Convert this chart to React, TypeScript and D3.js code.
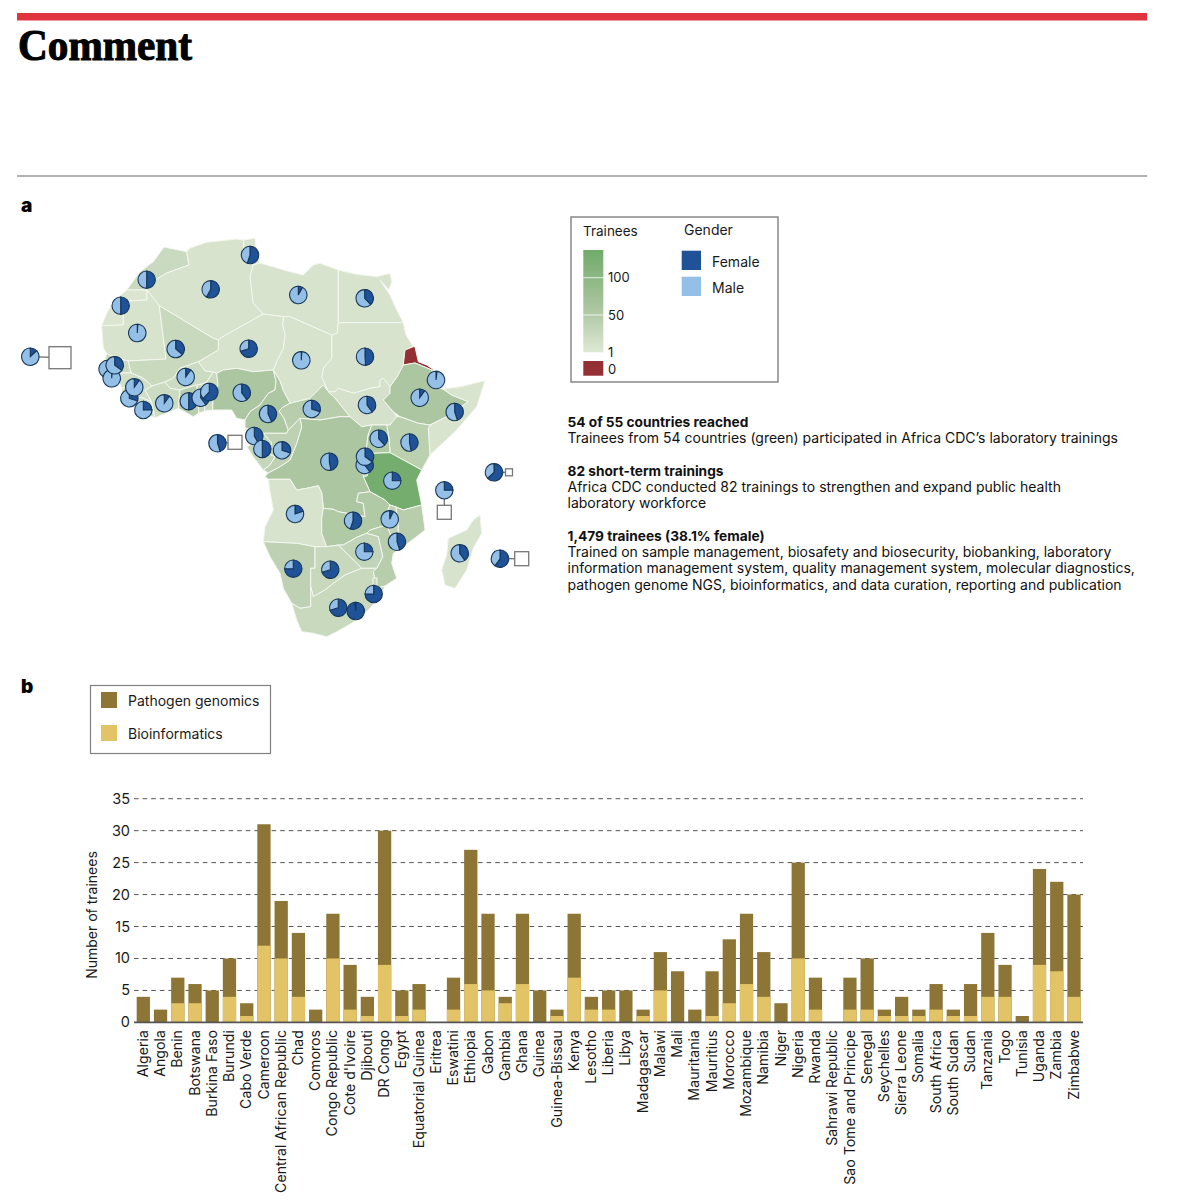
import * as d3 from "d3";

// ---- panel b data
const countries = ["Algeria","Angola","Benin","Botswana","Burkina Faso","Burundi","Cabo Verde","Cameroon","Central African Republic","Chad","Comoros","Congo Republic","Cote d'Ivoire","Djibouti","DR Congo","Egypt","Equatorial Guinea","Eritrea","Eswatini","Ethiopia","Gabon","Gambia","Ghana","Guinea","Guinea-Bissau","Kenya","Lesotho","Liberia","Libya","Madagascar","Malawi","Mali","Mauritania","Mauritius","Morocco","Mozambique","Namibia","Niger","Nigeria","Rwanda","Sahrawi Republic","Sao Tome and Principe","Senegal","Seychelles","Sierra Leone","Somalia","South Africa","South Sudan","Sudan","Tanzania","Togo","Tunisia","Uganda","Zambia","Zimbabwe"];
const totals = [4,2,7,6,5,10,3,31,19,14,2,17,9,4,30,5,6,0,7,27,17,4,17,5,2,17,4,5,5,2,11,8,2,8,13,17,11,3,25,7,0,7,10,2,4,2,6,2,6,14,9,1,24,22,20];
const bioinformatics = [0,0,3,3,0,4,1,12,10,4,0,10,2,1,9,1,2,0,2,6,5,3,6,0,1,7,2,2,0,1,5,0,0,1,3,6,4,0,10,2,0,2,2,1,1,1,2,1,1,4,4,0,9,8,4];
const yTicks = [0,5,10,15,20,25,30,35];

// ---- panel a: country outlines, in page pixels
const morocco = [[164,247],[186.7,251.7],[189,265],[166.7,273],[147,285],[147,290],[126.7,290],[140,271.7],[153.3,261.7]];
const westernSahara = [[126.7,290],[147,290],[147,300],[130,301],[123.3,306],[123.3,325],[101.7,325.7],[106.7,313],[115,300]];
const mauritania = [[147,290],[159.3,305.7],[166,359],[128,361],[115,358],[106.7,353.3],[103.3,348],[101.7,325.7],[123.3,325],[123.3,306],[130,301],[147,300]];
const algeria = [[147,290],[147,285],[166.7,273],[189,265],[186.7,251.7],[190,248],[206.7,242.3],[236.7,239],[243.3,240],[245,258.3],[253.3,265],[250,276.7],[253.3,303.3],[263.3,314],[220,338.3],[218.3,340],[213.3,338.3],[159.3,305.7]];
const tunisia = [[243.3,240],[255,238.3],[256,247],[258,256],[260,263],[253.3,265],[245,258.3]];
const libya = [[253.3,265],[260,263],[290,271.7],[303.3,275],[313.3,265],[320,263.3],[338.3,270],[338.3,322.7],[337.3,333.3],[331.7,335],[290,316.7],[283.3,316.7],[263.3,314],[253.3,303.3],[250,276.7]];
const egypt = [[338.3,270],[356.7,274.3],[376.7,276.7],[390,273.3],[391.7,281.7],[389,290],[380,280],[390,295],[396.7,310],[403.3,322.7],[338.3,322.7]];
const sudan = [[338.3,322.7],[403.3,322.7],[406,335],[413.3,346.7],[405,350],[403.3,365],[397.3,376.7],[390,386.7],[383.3,378.3],[380,380],[380,386.7],[370,388.3],[353.3,393.3],[338.3,388.3],[335,391.7],[328.3,391.7],[321.7,376.7],[323.3,368.3],[331.7,358.3],[331.7,335],[337.3,333.3]];
const chad = [[283.3,316.7],[290,316.7],[331.7,335],[331.7,358.3],[323.3,368.3],[321.7,376.7],[328.3,391.7],[323.3,385],[310,398.3],[290,403.3],[283,390],[280,381],[273.3,370],[276.7,361.7],[283.3,348.3],[285,335],[282.7,325]];
const niger = [[218.3,340],[220,338.3],[263.3,314],[283.3,316.7],[282.7,325],[285,335],[283.3,348.3],[276.7,361.7],[273.3,370],[253.3,371.7],[236.7,368.3],[223.3,370],[216.7,373.3],[213,372],[205,371],[198.3,361.7],[218.3,350]];
const mali = [[159.3,305.7],[213.3,338.3],[218.3,340],[218.3,350],[198.3,361.7],[180,368.3],[173.3,378],[165,382],[152,386],[143,378],[131,373],[128,361],[166,359]];
const senegal = [[106.7,353.3],[115,358],[128,361],[131,373],[120,373],[106,373],[104,364]];
const gambia = [[104,366],[120,365],[120,368],[104,369]];
const guineaBissau = [[106,373],[120,373],[118,380],[110,381]];
const guinea = [[120,373],[131,373],[143,378],[152,386],[145,390],[151.7,402],[143,398],[136,397],[135,385],[122,388],[118,380]];
const sierraLeone = [[122,388],[135,385],[136,397],[128,405],[121,396]];
const liberia = [[136,397],[143,398],[151.7,402],[155,417.7],[147,415],[128,405]];
const coteDivoire = [[145,390],[152,386],[165,382],[170,388],[180,390],[178.3,408.3],[155,417.7],[151.7,402]];
const burkina = [[173.3,378],[180,368.3],[198.3,361.7],[205,371],[213,372],[207,382],[202,384],[197,385],[180,390],[170,388],[165,382]];
const ghana = [[180,390],[197,385],[197,396],[199,413],[193.3,416.7],[178.3,408.3]];
const togo = [[197,385],[202,384],[203,398],[205,411],[199,413],[197,396]];
const benin = [[202,384],[207,382],[213,372],[216.7,373.3],[218,385],[213,398],[212.7,410],[205,411],[203,398]];
const nigeria = [[216.7,373.3],[223.3,370],[236.7,368.3],[253.3,371.7],[273.3,370],[276,381],[275,390],[268.3,393.3],[260,405],[250,411.7],[245,420],[236.7,418.3],[231.7,410],[212.7,410],[213,398],[218,385]];
const cameroon = [[273.3,370],[280,381],[283,390],[290,403.3],[283,407],[279,411],[284,418],[288.3,430],[286.7,433.3],[263.3,433.3],[256,433],[252,430],[245,428],[245,420],[250,411.7],[260,405],[268.3,393.3],[275,390],[276,381]];
const car = [[290,403.3],[310,398.3],[323.3,385],[328.3,391.7],[335,398],[350,416.7],[340,416.7],[320,420],[300,418.3],[288.3,430],[284,418],[279,411],[283,407]];
const southSudan = [[328.3,391.7],[335,391.7],[338.3,388.3],[353.3,393.3],[370,388.3],[380,386.7],[380,380],[383.3,378.3],[390,386.7],[390,393.3],[383.3,400],[393.3,411.7],[396.7,416.7],[390,425],[371.7,425],[361.7,426.7],[350,416.7],[335,398]];
const eritrea = [[405,350],[413.3,346.7],[415,346.7],[418.3,361.7],[426.7,365],[435.7,371],[431.7,370],[421.7,365.7],[415,363],[403.3,365]];
const djibouti = [[431.7,370],[435.7,371],[441,376],[443,389],[434,388]];
const ethiopia = [[403.3,365],[415,363],[421.7,365.7],[431.7,370],[434,388],[443,389],[451.7,395],[468.3,401.7],[446.7,416.7],[430,425],[418.3,423.3],[400,416.7],[393.3,411.7],[383.3,400],[390,393.3],[390,386.7],[397.3,376.7]];
const somalia = [[443,389],[460,386.7],[485,380.7],[476.7,406.7],[456.7,430],[430,455],[428.3,428.3],[430,425],[446.7,416.7],[468.3,401.7],[451.7,395]];
const kenya = [[396.7,416.7],[400,416.7],[418.3,423.3],[430,425],[428.3,428.3],[430,455],[421.7,470],[390,452.7],[389.3,440],[386.7,425],[390,425]];
const uganda = [[371.7,425],[386.7,425],[389.3,440],[390,452.7],[373.3,453.3],[366,450],[368,435]];
const rwanda = [[366,450],[373.3,453.3],[371.7,463.3],[362,462]];
const burundi = [[362,462],[371.7,463.3],[367,476],[363.3,476.7]];
const tanzania = [[373.3,453.3],[390,452.7],[421.7,470],[416.7,480],[421.7,505],[403.3,510],[396,507],[390,505],[385,500],[370,491.7],[363.3,476.7],[367,476],[371.7,463.3]];
const drCongo = [[300,418.3],[320,420],[340,416.7],[350,416.7],[361.7,426.7],[371.7,425],[368,435],[366,450],[362,462],[363.3,476.7],[370,491.7],[358.3,493.3],[356.7,501.7],[363.3,503.3],[365,516.7],[338.3,511.7],[333.3,509.3],[323.3,508.3],[321.7,493],[318.3,485.7],[306.7,488.3],[296.7,490],[290,479.3],[268.3,479.3],[265,476.7],[268,473],[280,466.7],[290,460],[296.7,443.3],[301.7,426.7]];
const congo = [[263.3,433.3],[286.7,433.3],[288.3,430],[300,418.3],[301.7,426.7],[296.7,443.3],[290,460],[280,466.7],[268,473],[263.3,470],[270,465],[275,456.7],[266.7,453],[271.7,443]];
const gabon = [[256,433],[263.3,433.3],[271.7,443],[266.7,453],[275,456.7],[270,465],[263.3,470],[253.3,457],[247,447],[256,441]];
const eqGuinea = [[245,428],[252,430],[256,433],[256,441],[247,441]];
const angola = [[268.3,479.3],[290,479.3],[296.7,490],[306.7,488.3],[318.3,485.7],[321.7,493],[323.3,508.3],[321.7,518.3],[321.7,533.3],[326.7,546.7],[315,546.7],[296.7,543.3],[263.3,541.7],[265,526.7],[273.3,510],[270,491.7]];
const zambia = [[321.7,518.3],[323.3,508.3],[333.3,509.3],[338.3,511.7],[365,516.7],[363.3,503.3],[356.7,501.7],[358.3,493.3],[370,491.7],[385,500],[390,505],[385,516.7],[386.7,525],[370,530],[366.7,533.3],[356.7,537.3],[343.3,545],[338.3,545],[326.7,546.7],[321.7,533.3]];
const malawi = [[390,505],[396,507],[398.3,525],[398.3,535],[393.3,541.7],[386.7,525],[385,516.7]];
const mozambique = [[421.7,505],[423.3,516.7],[425,530],[410,541.7],[393.3,553.3],[391.7,563.3],[396.7,578.3],[385,586],[376.7,588.3],[373.3,571.7],[376.7,568.3],[382.7,556.7],[378.3,536.7],[366.7,533.3],[370,530],[386.7,525],[393.3,541.7],[398.3,535],[398.3,525],[396,507],[403.3,510]];
const zimbabwe = [[366.7,533.3],[378.3,536.7],[382.7,556.7],[376.7,568.3],[361.7,568.3],[353.3,560],[345,551.7],[338.3,545],[343.3,545],[356.7,537.3]];
const namibia = [[263.3,541.7],[296.7,543.3],[315,546.7],[315,568.3],[310.7,568.3],[310.7,606.7],[300,608.3],[291.7,603.3],[283.3,588.3],[280,573.3],[270,556.7]];
const botswana = [[315,546.7],[326.7,546.7],[338.3,545],[345,551.7],[353.3,560],[361.7,568.3],[345,575],[333.3,583.3],[325,590],[313.3,596.7],[310.7,586.7],[310.7,568.3],[315,568.3]];
const southAfrica = [[310.7,586.7],[313.3,596.7],[325,590],[333.3,583.3],[345,575],[361.7,568.3],[376.7,568.3],[373.3,571.7],[376.7,588.3],[385,586],[381.7,595],[368.3,610],[351.7,623.3],[336.7,631.7],[326.7,636.7],[313.3,633.3],[301.7,631.7],[296.7,620],[291.7,603.3],[300,608.3],[310.7,606.7]];
const eswatini = [[373,578],[377,578],[377,586],[373,586]];
const lesotho = [[336,607],[345,606],[346,613],[338,615]];
const madagascar = [[473.3,520],[480,515],[481.7,533.3],[473.3,548.3],[466.7,570],[455,588.3],[445,585],[441.7,570],[446.7,555],[448.3,538.3],[466.7,530]];

// name, outline, trainees (total estimated from the map shading)
const mapShapes: [string, number[][], number][] = [
  ["Morocco", morocco, 24], ["Sahrawi Republic", westernSahara, 6], ["Mauritania", mauritania, 10], ["Algeria", algeria, 10], ["Tunisia", tunisia, 8],
  ["Libya", libya, 10], ["Egypt", egypt, 10], ["Sudan", sudan, 9], ["Chad", chad, 10], ["Niger", niger, 10], ["Mali", mali, 26],
  ["Senegal", senegal, 24], ["Gambia", gambia, 15], ["Guinea-Bissau", guineaBissau, 12], ["Guinea", guinea, 16], ["Sierra Leone", sierraLeone, 14], ["Liberia", liberia, 14],
  ["Cote d'Ivoire", coteDivoire, 22], ["Burkina Faso", burkina, 22], ["Ghana", ghana, 44], ["Togo", togo, 30], ["Benin", benin, 24], ["Nigeria", nigeria, 58], ["Cameroon", cameroon, 56],
  ["Central African Republic", car, 46], ["South Sudan", southSudan, 12], ["Eritrea", eritrea, 0], ["Djibouti", djibouti, 8], ["Ethiopia", ethiopia, 58], ["Somalia", somalia, 8],
  ["Kenya", kenya, 42], ["Uganda", uganda, 54], ["Rwanda", rwanda, 40], ["Burundi", burundi, 30], ["Tanzania", tanzania, 132], ["DR Congo", drCongo, 58], ["Congo Republic", congo, 38],
  ["Gabon", gabon, 30], ["Equatorial Guinea", eqGuinea, 20], ["Angola", angola, 9], ["Zambia", zambia, 52], ["Malawi", malawi, 36], ["Mozambique", mozambique, 46], ["Zimbabwe", zimbabwe, 34],
  ["Namibia", namibia, 38], ["Botswana", botswana, 28], ["South Africa", southAfrica, 26], ["Eswatini", eswatini, 26], ["Lesotho", lesotho, 26], ["Madagascar", madagascar, 10],
];

// name, x, y, female share - later entries sit on top
const pieSites: [string, number, number, number][] = [
  ["Tunisia", 250, 255, 0.55], ["Morocco", 146.7, 279.7, 0.5], ["Algeria", 210.7, 289.3, 0.58], ["Sahrawi Republic", 120.7, 305.7, 0.5],
  ["Mauritania", 137.3, 333, 0.01], ["Mali", 175.7, 349, 0.36], ["Niger", 248.7, 348.7, 0.7], ["Cabo Verde", 30.3, 356.7, 0.13],
  ["Gambia", 107.5, 369, 0.3], ["Guinea-Bissau", 111.7, 378.3, 0.01], ["Senegal", 114.7, 365.3, 0.35],
  ["Sierra Leone", 129.3, 398.3, 0.3], ["Guinea", 134.3, 387.3, 0.1], ["Liberia", 143.3, 410, 0.25], ["Cote d'Ivoire", 164.3, 403.3, 0.1], ["Burkina Faso", 185.7, 377, 0.1],
  ["Ghana", 188.7, 401.3, 0.5], ["Togo", 200.7, 397.7, 0.4], ["Benin", 209.3, 392, 0.62], ["Nigeria", 241.7, 392.7, 0.4], ["Cameroon", 268, 414, 0.43],
  ["Libya", 298.3, 295, 0.08], ["Egypt", 364.7, 298.3, 0.38], ["Chad", 301.3, 360.3, 0.01], ["Sudan", 365, 356.7, 0.49], ["Djibouti", 436, 380, 0.02],
  ["Ethiopia", 419.7, 397.7, 0.1], ["Somalia", 454.7, 412, 0.45], ["Central African Republic", 311.7, 409, 0.3], ["South Sudan", 367, 405, 0.4],
  ["Sao Tome and Principe", 217.5, 443.2, 0.45], ["Equatorial Guinea", 254.3, 436, 0.42], ["Gabon", 262.3, 449, 0.5], ["Congo Republic", 282, 450.3, 0.3],
  ["DR Congo", 329.3, 461.7, 0.47], ["Burundi", 364.7, 465, 0.4], ["Rwanda", 365, 456.7, 0.35], ["Uganda", 378.7, 438.7, 0.38], ["Kenya", 409.5, 442.5, 0.47],
  ["Tanzania", 392.3, 480.7, 0.25], ["Comoros", 444.3, 490.3, 0.25], ["Seychelles", 494, 472.3, 0.63], ["Angola", 295, 514, 0.2], ["Zambia", 353, 520.7, 0.55],
  ["Malawi", 389.7, 519.3, 0.07], ["Mozambique", 397, 541.7, 0.45], ["Zimbabwe", 364.3, 551.7, 0.25], ["Madagascar", 459.7, 553.3, 0.4], ["Mauritius", 500, 558.7, 0.6],
  ["Namibia", 293.3, 568.7, 0.75], ["Botswana", 330.3, 569.7, 0.7], ["Eswatini", 373.7, 594, 0.75], ["Lesotho", 338.3, 607.7, 0.7], ["South Africa", 355.7, 611, 0.99],
];

// island countries too small to see get a box, linked to their pie
const islandBoxes: [string, number, number, number][] = [
  ["Cabo Verde", 60, 357.7, 22], ["Sao Tome and Principe", 235, 442.3, 14], ["Comoros", 444.3, 512.3, 14], ["Seychelles", 509, 472.3, 7], ["Mauritius", 521.7, 558.7, 14],
];

const summary = [
  { head: "54 of 55 countries reached", y: 426.7, lines: [["Trainees from 54 countries (green) participated in Africa CDC\u2019s laboratory trainings", 442.7]] },
  { head: "82 short-term trainings", y: 476, lines: [["Africa CDC conducted 82 trainings to strengthen and expand public health", 491.7], ["laboratory workforce", 507.7]] },
  { head: "1,479 trainees (38.1% female)", y: 541, lines: [["Trained on sample management, biosafety and biosecurity, biobanking, laboratory", 556.7], ["information management system, quality management system, molecular diagnostics,", 573.3], ["pathogen genome NGS, bioinformatics, and data curation, reporting and publication", 590]] },
];

const FONT = "Inter, 'Noto Sans', sans-serif";
const FEMALE = "#1f5296";
const MALE = "#94bfe6";
const PIE_EDGE = "#17375a";
const GENOMICS = "#8d7535";
const BIOINF = "#e2c366";

const traineeColor = d3.scaleLinear<string>().domain([1, 60, 132]).range(["#dfe8d5", "#aac59f", "#74ad6e"]);

const x = d3.scaleBand<string>().domain(countries).range([134.7, 1082.6]).paddingInner(0.23).paddingOuter(0.115);
const y = d3.scaleLinear().domain([0, 35]).range([1022.4, 798.7]);
const legendY = d3.scaleLinear().domain([1, 50, 100, 137]).range([352.3, 315, 277.7, 250]);

const mapPath = d3.geoPath(d3.geoIdentity());
const pie = d3.pie<number>().sort(null);
const arc = d3.arc<d3.PieArcDatum<number>>().innerRadius(0).outerRadius(8.7);

export default function App() {
  const gradientStops = d3.range(0, 9).map((i) => 1 + (i * 136) / 8);
  return (
    <svg width={1179} height={1200} viewBox="0 0 1179 1200" style={{ position: "absolute", left: 0, top: 0, background: "#fff" }} fontFamily={FONT}>
      <defs>
        <linearGradient id="trainee-ramp" x1="0" y1="1" x2="0" y2="0">
          {gradientStops.map((v, i) => (
            <stop key={i} offset={i / 8} stopColor={traineeColor(v)} />
          ))}
        </linearGradient>
      </defs>

      {/* masthead */}
      <rect x={17} y={13} width={1130} height={7.5} fill="#e0343f" />
      <text x={18} y={60} fontFamily="'Liberation Serif', serif" fontWeight={700} fontSize={44} textLength={174} lengthAdjust="spacingAndGlyphs" stroke="#000" strokeWidth={1.1} fill="#000">Comment</text>
      <line x1={17} x2={1147} y1={176} y2={176} stroke="#999" strokeWidth={1.3} />
      <text x={21} y={212} fontSize={19} fontWeight={900} fill="#000">a</text>
      <text x={21} y={693} fontSize={19} fontWeight={900} fill="#000">b</text>

      {/* map */}
      <g stroke="#f4f7f0" strokeWidth={1} strokeLinejoin="round">
        {mapShapes.map(([name, ring, trainees]) => (
          <path
            key={name}
            d={mapPath({ type: "Polygon", coordinates: [[...ring, ring[0]]] } as any) ?? ""}
            fill={trainees === 0 ? "#943034" : traineeColor(trainees)}
          />
        ))}
      </g>

      {/* island boxes */}
      {islandBoxes.map(([name, bx, by, size]) => {
        const site = pieSites.find((p) => p[0] === name)!;
        return (
          <g key={name}>
            <line x1={site[1]} y1={site[2]} x2={bx} y2={by} stroke="#666" strokeWidth={1.2} />
            <rect x={bx - size / 2} y={by - size / 2} width={size} height={size} fill="#fff" stroke="#777" strokeWidth={1.3} />
          </g>
        );
      })}

      {/* gender pies */}
      {pieSites.map(([name, px, py, share]) => (
        <g key={name} transform={`translate(${px},${py})`} stroke={PIE_EDGE} strokeWidth={1.1}>
          {pie([share, 1 - share]).map((slice, i) => (
            <path key={i} d={arc(slice) ?? ""} fill={i === 0 ? FEMALE : MALE} />
          ))}
        </g>
      ))}

      {/* panel a legend */}
      <rect x={571} y={217} width={207} height={165} fill="#fff" stroke="#808080" strokeWidth={1.4} />
      <text x={583} y={236} fontSize={13.5} fill="#1a1a1a">Trainees</text>
      <text x={684} y={235} fontSize={14} fill="#1a1a1a">Gender</text>
      <rect x={583.3} y={legendY(137)} width={20} height={legendY(1) - legendY(137)} fill="url(#trainee-ramp)" />
      {[50, 100].map((v) => (
        <line key={v} x1={583.3} x2={603.3} y1={legendY(v)} y2={legendY(v)} stroke="#fff" strokeWidth={0.8} />
      ))}
      {[1, 50, 100].map((v) => (
        <text key={v} x={608} y={legendY(v) + 4.5} fontSize={13} fill="#1a1a1a">{v}</text>
      ))}
      <rect x={583.3} y={361} width={20} height={14.7} fill="#943034" />
      <text x={608} y={374} fontSize={13} fill="#1a1a1a">0</text>
      <rect x={681.7} y={250.7} width={19.3} height={19.3} fill={FEMALE} />
      <rect x={681.7} y={276.7} width={19.3} height={19.3} fill={MALE} />
      <text x={712} y={266.7} fontSize={14} fill="#1a1a1a">Female</text>
      <text x={712} y={292.7} fontSize={14} fill="#1a1a1a">Male</text>

      {/* summary text */}
      <g fontSize={14} fill="#111">
        {summary.map((block) => (
          <g key={block.head}>
            <text x={567.5} y={block.y} fontWeight={700} fontSize={13.7}>{block.head}</text>
            {block.lines.map(([line, ly]) => (
              <text key={line as string} x={567.5} y={ly as number}>{line}</text>
            ))}
          </g>
        ))}
      </g>

      {/* panel b legend */}
      <rect x={90.5} y={685.5} width={180} height={68} fill="#fff" stroke="#808080" strokeWidth={1.2} />
      <rect x={101} y={692} width={16} height={16} fill={GENOMICS} />
      <rect x={101} y={725} width={16} height={16} fill={BIOINF} />
      <text x={128} y={706} fontSize={14} fill="#1a1a1a">Pathogen genomics</text>
      <text x={128} y={739} fontSize={14} fill="#1a1a1a">Bioinformatics</text>

      {/* stacked bars */}
      {yTicks.slice(1).map((t) => (
        <line key={t} x1={134} x2={1083} y1={y(t)} y2={y(t)} stroke="#555" strokeWidth={1} strokeDasharray="4.6 4" />
      ))}
      {yTicks.map((t) => (
        <text key={t} x={130} y={y(t) + 5} textAnchor="end" fontSize={14.5} fill="#1a1a1a">{t}</text>
      ))}
      {countries.map((c, i) => (
        <g key={c}>
          <rect x={x(c)} y={y(totals[i])} width={x.bandwidth()} height={y(0) - y(totals[i])} fill={GENOMICS} />
          <rect x={x(c)} y={y(bioinformatics[i])} width={x.bandwidth()} height={y(0) - y(bioinformatics[i])} fill={BIOINF} />
        </g>
      ))}
      <line x1={134} x2={1083} y1={y(0)} y2={y(0)} stroke="#555" strokeWidth={1.6} />
      {countries.map((c) => (
        <text
          key={c}
          transform={`translate(${x(c)! + x.bandwidth() / 2 + 4.6},1030) rotate(-90)`}
          textAnchor="end"
          fontSize={14.2}
          fill="#1a1a1a"
        >
          {c}
        </text>
      ))}
      <text transform="translate(97,915) rotate(-90)" textAnchor="middle" fontSize={14} fill="#1a1a1a">Number of trainees</text>
    </svg>
  );
}
